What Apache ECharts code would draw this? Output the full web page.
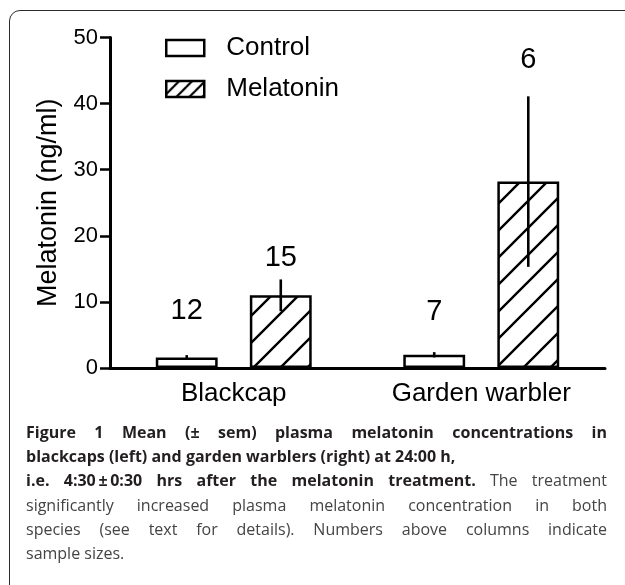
<!DOCTYPE html>
<html><head><meta charset="utf-8">
<script src="https://cdn.jsdelivr.net/npm/echarts@6/dist/echarts.min.js"></script>
<style>
html,body{margin:0;padding:0;background:#fff;overflow:hidden;}
#frame{position:absolute;left:9px;top:10px;width:1200px;height:1200px;border:1.6px solid #2b2b2b;border-radius:11px;box-sizing:border-box;}
#chart{position:absolute;left:0;top:0;width:625px;height:585px;}
#cap{position:absolute;left:26px;top:420px;width:581px;font-family:'Open Sans',sans-serif;font-size:16px;line-height:24.2px;color:#444;}
.j{text-align:justify;text-align-last:justify;}
b{color:#231f20;font-weight:700;}
</style></head>
<body>
<div id="frame"></div>
<div id="chart"></div>
<div id="cap">
<div class="j"><b>Figure 1 Mean (± sem) plasma melatonin concentrations in</b></div>
<div><b>blackcaps (left) and garden warblers (right) at 24:00 h,</b></div>
<div class="j"><b>i.e. 4:30&#8201;±&#8201;0:30 hrs after the melatonin treatment.</b> The treatment</div>
<div class="j">significantly increased plasma melatonin concentration in both</div>
<div class="j">species (see text for details). Numbers above columns indicate</div>
<div>sample sizes.</div>
</div>
<script>
// ---- data ----
const categories = ['Blackcap', 'Garden warbler'];
const seriesNames = ['Control', 'Melatonin'];
const controlMean = [1.6, 2.0];
const controlSem = [0.35, 0.4];
const melatoninMean = [11.0, 28.2];
const melatoninSem = [2.4, 12.9];
const controlN = [12, 7];
const melatoninN = [15, 6];
const controlNLabelY = [8.6, 8.4];
const melatoninNLabelY = [16.7, 46.6];
const yMin = 0, yMax = 50, yInterval = 10;

// ---- layout constants ----
const CAT_GAP = 0.37, BAR_GAP = 0.52;
const FONT = '"Liberation Sans", Arial, sans-serif';

function hatch(step, lw) {
  const c = document.createElement('canvas');
  c.width = step; c.height = step;
  const g = c.getContext('2d');
  g.fillStyle = '#fff'; g.fillRect(0, 0, step, step);
  g.strokeStyle = '#000'; g.lineWidth = lw;
  g.beginPath();
  for (const k of [-1, 0, 1]) {
    g.moveTo(k * step - 1, step + 1);
    g.lineTo(k * step + step + 1, -1);
  }
  g.stroke();
  return c;
}
const barHatch = { image: hatch(27, 2.4), repeat: 'repeat' };
const legendHatch = { image: hatch(13, 2.2), repeat: 'repeat' };

function errSeries(name, means, sems, ns, labelYs, side) {
  return {
    type: 'custom', name: name + ' sem', silent: true, z: 10,
    data: means.map((m, i) => [i, m, sems[i], ns[i], labelYs[i]]),
    renderItem(params, api) {
      const i = api.value(0), m = api.value(1), s = api.value(2);
      const cw = api.size([1, 0])[0];
      const group = cw * (1 - CAT_GAP);
      const bw = group / (2 + BAR_GAP);
      const dx = side * (group / 2 - bw / 2);
      const c = api.coord([i, m]);
      const top = api.coord([i, m + s]);
      const bot = api.coord([i, Math.max(0, m - s)]);
      const lab = api.coord([i, api.value(4)]);
      const x = c[0] + dx;
      return {
        type: 'group', children: [
          { type: 'line', shape: { x1: x, y1: top[1], x2: x, y2: bot[1] }, style: { stroke: '#000', lineWidth: 2.6 } },
          { type: 'text', x: x, y: lab[1], style: { text: String(api.value(3)), font: '29px ' + FONT, fill: '#000', align: 'center', verticalAlign: 'middle' } }
        ]
      };
    }
  };
}

const chart = echarts.init(document.getElementById('chart'), null, { renderer: 'canvas' });
chart.setOption({
  backgroundColor: 'transparent',
  animation: false,
  grid: { left: 110, right: 20, top: 37.5, bottom: 217 },
  legend: {
    left: 165, top: 35, padding: 0, orient: 'vertical', itemGap: 15, itemWidth: 38, itemHeight: 16,
    icon: 'rect', selectedMode: false,
    textStyle: { fontFamily: FONT, fontSize: 26, color: '#000', padding: [0, 0, 0, 17] },
    data: [
      { name: seriesNames[0], itemStyle: { color: '#fff', borderColor: '#000', borderWidth: 2.5 } },
      { name: seriesNames[1], itemStyle: { color: legendHatch, borderColor: '#000', borderWidth: 2.5 } }
    ]
  },
  xAxis: {
    type: 'category', data: categories,
    axisLine: { lineStyle: { color: '#000', width: 3 } },
    axisTick: { alignWithLabel: true, length: 10, lineStyle: { color: '#000', width: 2.5 } },
    axisLabel: { fontFamily: FONT, fontSize: 26, color: '#000', margin: 13 }
  },
  yAxis: {
    type: 'value', min: yMin, max: yMax, interval: yInterval,
    name: 'Melatonin (ng/ml)', nameLocation: 'middle', nameGap: 48,
    nameTextStyle: { fontFamily: FONT, fontSize: 27, color: '#000' },
    axisLine: { show: true, lineStyle: { color: '#000', width: 3 } },
    axisTick: { show: true, length: 10, lineStyle: { color: '#000', width: 2.5 } },
    axisLabel: { fontFamily: FONT, fontSize: 22, color: '#000', margin: 12 },
    splitLine: { show: false }
  },
  series: [
    { type: 'bar', name: seriesNames[0], data: controlMean, barCategoryGap: (CAT_GAP * 100) + '%', barGap: (BAR_GAP * 100) + '%',
      itemStyle: { color: '#fff', borderColor: '#000', borderWidth: 2.5 }, emphasis: { disabled: true } },
    { type: 'bar', name: seriesNames[1], data: melatoninMean, barCategoryGap: (CAT_GAP * 100) + '%', barGap: (BAR_GAP * 100) + '%',
      itemStyle: { color: barHatch, borderColor: '#000', borderWidth: 2.5 }, emphasis: { disabled: true } },
    errSeries('Control', controlMean, controlSem, controlN, controlNLabelY, -1),
    errSeries('Melatonin', melatoninMean, melatoninSem, melatoninN, melatoninNLabelY, 1)
  ]
});
</script>
</body></html>
